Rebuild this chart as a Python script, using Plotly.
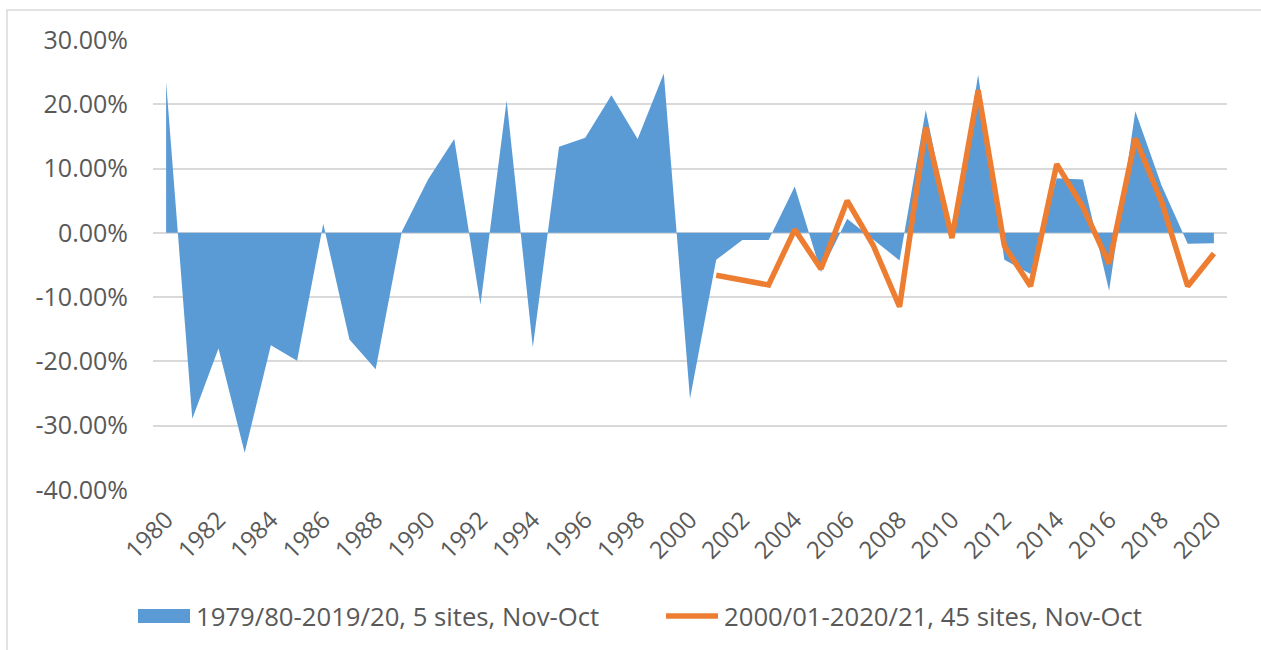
import plotly.graph_objects as go

# ---- data ----
years_long = [1980, 1981, 1982, 1983, 1984, 1985, 1986, 1987, 1988, 1989,
              1990, 1991, 1992, 1993, 1994, 1995, 1996, 1997, 1998, 1999,
              2000, 2001, 2002, 2003, 2004, 2005, 2006, 2007, 2008, 2009,
              2010, 2011, 2012, 2013, 2014, 2015, 2016, 2017, 2018, 2019, 2020]
values_long = [23.5, -28.9, -18.0, -34.2, -17.5, -19.9, 1.4, -16.6, -21.2, 0.2,
               8.3, 14.6, -11.2, 20.6, -17.8, 13.4, 14.8, 21.4, 14.6, 24.8,
               -25.8, -4.2, -1.1, -1.1, 7.2, -6.1, 2.2, -1.0, -4.3, 19.1,
               -0.8, 24.6, -4.2, -6.4, 8.5, 8.3, -9.0, 18.9, 7.4, -1.7, -1.6]

years_short = [2001, 2002, 2003, 2004, 2005, 2006, 2007, 2008, 2009, 2010,
               2011, 2012, 2013, 2014, 2015, 2016, 2017, 2018, 2019, 2020]
values_short = [-6.6, -7.4, -8.1, 0.5, -5.6, 5.0, -2.0, -11.5, 16.4, -0.8,
                22.2, -2.0, -8.3, 10.7, 4.0, -4.8, 14.7, 4.9, -8.3, -3.2]

series_names = ["1979/80-2019/20, 5 sites, Nov-Oct",
                "2000/01-2020/21, 45 sites, Nov-Oct"]
x_ticks = [1980, 1982, 1984, 1986, 1988, 1990, 1992, 1994, 1996, 1998, 2000,
           2002, 2004, 2006, 2008, 2010, 2012, 2014, 2016, 2018, 2020]
y_ticks = [-0.4, -0.3, -0.2, -0.1, 0.0, 0.1, 0.2, 0.3]
y_tick_labels = ["-40.00%", "-30.00%", "-20.00%", "-10.00%", "0.00%",
                 "10.00%", "20.00%", "30.00%"]

BLUE = "#5B9BD5"
ORANGE = "#ED7D31"
TEXT = "#595959"
GRID = "#D9D9D9"
FONT = "Open Sans"

W, H = 1261, 650
L, R, T, B = 153, 1227, 40, 490


def px(x):
    return (x - L) / (R - L)


def py(y):
    return (B - y) / (B - T)


fig = go.Figure()
fig.add_trace(go.Scatter(
    x=years_long, y=[v / 100 for v in values_long], name=series_names[0],
    mode="lines", fill="tozeroy", fillcolor=BLUE,
    line=dict(width=0, color=BLUE), showlegend=False, hoverinfo="x+y"))
fig.add_trace(go.Scatter(
    x=years_short, y=[v / 100 for v in values_short], name=series_names[1],
    mode="lines", line=dict(width=5.5, color=ORANGE, shape="linear"),
    showlegend=False, hoverinfo="x+y"))

shapes = [
    # chart border
    dict(type="rect", xref="paper", yref="paper",
         x0=px(7), x1=px(1275), y0=py(665), y1=py(10),
         line=dict(color=GRID, width=1.5), fillcolor="rgba(0,0,0,0)", layer="below"),
    # legend swatches
    dict(type="rect", xref="paper", yref="paper",
         x0=px(138), x1=px(190), y0=py(623), y1=py(609),
         line=dict(width=0), fillcolor=BLUE),
    dict(type="line", xref="paper", yref="paper",
         x0=px(666), x1=px(718), y0=py(616), y1=py(616),
         line=dict(color=ORANGE, width=5.5)),
]
annotations = [
    dict(text=series_names[0], xref="paper", yref="paper", x=px(194), y=py(616),
         xanchor="left", yanchor="middle", showarrow=False,
         font=dict(family=FONT, size=25.7, color=TEXT)),
    dict(text=series_names[1], xref="paper", yref="paper", x=px(722), y=py(616),
         xanchor="left", yanchor="middle", showarrow=False,
         font=dict(family=FONT, size=25.7, color=TEXT)),
]

fig.update_layout(
    width=W, height=H,
    margin=dict(l=L, r=W - R, t=T, b=H - B),
    paper_bgcolor="white", plot_bgcolor="white",
    font=dict(family=FONT, size=24, color=TEXT),
    shapes=shapes, annotations=annotations,
    showlegend=False,
    xaxis=dict(range=[1979.5, 2020.5], tickmode="array", tickvals=x_ticks,
               ticktext=[str(t) for t in x_ticks], tickangle=-45,
               showgrid=False, zeroline=False, showline=False, ticks="",
               tickfont=dict(family=FONT, size=24, color=TEXT), ticklabelstandoff=10),
    yaxis=dict(range=[-0.4, 0.3], tickmode="array", tickvals=y_ticks,
               ticktext=y_tick_labels, showgrid=True, gridcolor=GRID, gridwidth=1.5,
               zeroline=True, zerolinecolor=GRID, zerolinewidth=1.5,
               showline=False, ticks="", ticklabelstandoff=24,
               tickfont=dict(family=FONT, size=25, color=TEXT)),
)

fig.write_html("out.html", config={"displayModeBar": False},
               post_script="document.body.style.margin='0';document.body.style.overflow='hidden';")
